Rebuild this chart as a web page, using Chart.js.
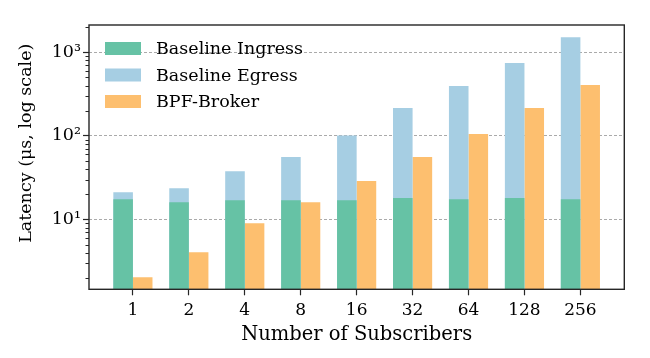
<!DOCTYPE html>
<html>
<head>
<meta charset="utf-8">
<script src="https://cdn.jsdelivr.net/npm/chart.js@4"></script>
<style>
  html, body { margin: 0; padding: 0; background: #fff; }
  #wrap { width: 650px; height: 358px; }
</style>
</head>
<body>
<div id="wrap"><canvas id="myChart" width="650" height="358"></canvas></div>
<script>
var subscribers = ['1', '2', '4', '8', '16', '32', '64', '128', '256'];
var ingress = [17.5, 16.1, 17.0, 17.0, 17.0, 18.0, 17.5, 18.0, 17.5];
var egress = [21.2, 23.7, 37.8, 55.7, 101, 215, 395, 742, 1510];
var bpfBroker = [2.04, 4.06, 9.0, 16.1, 28.8, 55.7, 105, 215, 405];
var majorTicks = [10, 100, 1000];
var majorLabels = ['10\u00b9', '10\u00b2', '10\u00b3'];

var font = 'DejaVu Serif';

function points(values) {
    return values.map(function (v, i) { return { x: i, y: v }; });
}

// frame round the plot and the short minor ticks on the log axis
var framePlugin = {
    id: 'frame',
    afterDraw: function (chart) {
        var a = chart.chartArea, c = chart.ctx;
        var ys = chart.scales.y;
        c.save();
        c.strokeStyle = '#262626';
        c.lineWidth = 1;
        ys.ticks.forEach(function (t) {
            if (majorTicks.indexOf(t.value) >= 0) return;
            var py = Math.round(ys.getPixelForValue(t.value)) + 0.5;
            c.beginPath();
            c.moveTo(a.left - 3.5, py);
            c.lineTo(a.left, py);
            c.stroke();
        });
        c.lineWidth = 1.4;
        c.strokeRect(a.left, a.top, a.right - a.left, a.bottom - a.top);
        c.restore();
    }
};

// legend inside the plot, top left, no box
var legendPlugin = {
    id: 'innerLegend',
    afterDraw: function (chart) {
        var a = chart.chartArea, c = chart.ctx;
        c.save();
        c.font = '17.5px "' + font + '"';
        c.textBaseline = 'middle';
        chart.data.datasets.forEach(function (ds, i) {
            var y = a.top + 23.5 + i * 26.5;
            c.fillStyle = ds.backgroundColor;
            c.fillRect(a.left + 16, y - 6.5, 36, 13);
            c.fillStyle = '#000';
            c.fillText(ds.label, a.left + 67, y + 1);
        });
        c.restore();
    }
};

var ctx = document.getElementById('myChart').getContext('2d');
var chart = new Chart(ctx, {
    type: 'bar',
    data: {
        datasets: [{
            label: 'Baseline Ingress',
            backgroundColor: '#66c2a5',
            stack: 'baseline',
            data: points(ingress)
        }, {
            label: 'Baseline Egress',
            backgroundColor: '#a6cee3',
            stack: 'baseline',
            data: points(egress)
        }, {
            label: 'BPF-Broker',
            backgroundColor: '#fdbf6f',
            stack: 'bpf',
            data: points(bpfBroker)
        }]
    },
    options: {
        responsive: false,
        animation: false,
        categoryPercentage: 0.7,
        barPercentage: 1.0,
        layout: { padding: { left: 0, right: 25.7, top: 25, bottom: 0 } },
        plugins: {
            legend: { display: false },
            tooltip: { enabled: false }
        },
        scales: {
            x: {
                type: 'linear',
                stacked: true,
                offset: false,
                min: -0.785,
                max: subscribers.length - 1 + 0.785,
                afterBuildTicks: function (scale) {
                    scale.ticks = subscribers.map(function (s, i) { return { value: i }; });
                },
                afterFit: function (scale) { scale.height = 68.7; },
                border: { display: false },
                grid: { offset: false, drawOnChartArea: false, drawTicks: true, tickLength: 6, tickColor: '#262626', tickWidth: 1.2 },
                ticks: {
                    color: '#000',
                    padding: 5,
                    font: { family: font, size: 17 },
                    callback: function (v) { return subscribers[v]; }
                },
                title: {
                    display: true,
                    text: 'Number of Subscribers',
                    color: '#000',
                    font: { family: font, size: 19.5 },
                    padding: { top: 0, bottom: 11.5 }
                }
            },
            y: {
                type: 'logarithmic',
                stacked: false,
                min: 1.46,
                max: 2120,
                afterBuildTicks: function (scale) {
                    var t = [];
                    for (var d = 0; d < 4; d++) {
                        for (var m = 1; m < 10; m++) {
                            var v = m * Math.pow(10, d);
                            if (v >= scale.min && v <= scale.max) t.push({ value: v });
                        }
                    }
                    scale.ticks = t;
                },
                afterFit: function (scale) { scale.width = 89; },
                border: {
                    display: false,
                    dash: [3, 2]
                },
                grid: {
                    color: function (c) {
                        return c.tick && majorTicks.indexOf(c.tick.value) >= 0 ? '#aaaaaa' : 'rgba(0,0,0,0)';
                    },
                    lineWidth: 1,
                    tickColor: function (c) {
                        return c.tick && majorTicks.indexOf(c.tick.value) >= 0 ? '#262626' : 'rgba(0,0,0,0)';
                    },
                    tickLength: 6,
                    tickWidth: 1.2
                },
                ticks: {
                    color: '#000',
                    padding: 2,
                    autoSkip: false,
                    font: { family: font, size: 17.5 },
                    callback: function (v) {
                        var k = majorTicks.indexOf(v);
                        return k >= 0 ? majorLabels[k] : '';
                    }
                },
                title: {
                    display: true,
                    // leading spaces lift the label a little, as in the original
                    text: '     Latency (\u03bcs, log scale)',
                    color: '#000',
                    font: { family: font, size: 17.5 },
                    padding: { top: 16, bottom: 0 }
                }
            }
        }
    },
    plugins: [framePlugin, legendPlugin]
});
</script>
</body>
</html>
